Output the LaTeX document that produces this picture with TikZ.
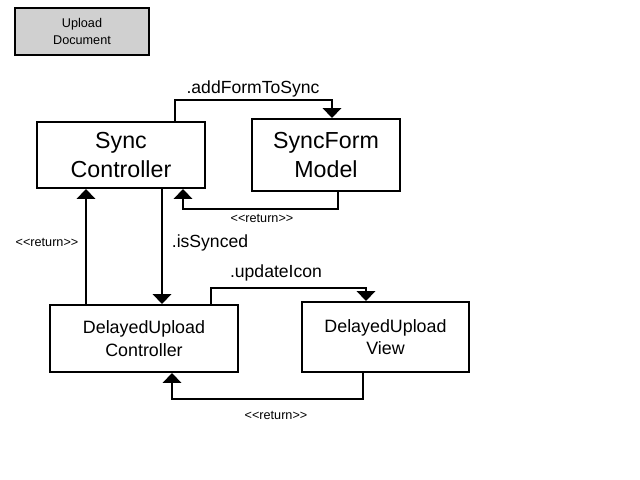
\documentclass[tikz,border=0pt]{standalone}
\usepackage{fontspec}
\setmainfont{Liberation Sans}
\usetikzlibrary{arrows.meta,positioning,calc}
\definecolor{boxGray}{RGB}{208, 208, 208}

\begin{document}
\begin{tikzpicture}[
        x=0.025cm, y=-0.025cm,
        box/.style={rectangle, draw, line width=1.4pt, inner sep=0pt, align=center},
        arrow/.style={-{Triangle[width=13pt, length=7pt]}, line width=1.4pt},
        lbl/.style={font=\fontsize{12.5}{15}\selectfont},
        ret/.style={font=\fontsize{9}{11}\selectfont}
    ]
        \useasboundingbox (0,0) rectangle (640,480);

        % Legend
        \node[box, fill=boxGray, minimum width=3.35cm, minimum height=1.175cm, font=\fontsize{9}{11.5}\selectfont] (upload) at (82,31.5) {Upload\\Document};

        % Top row
        \node[box, minimum width=4.2cm, minimum height=1.65cm, font=\fontsize{16.5}{21}\selectfont] (sync) at (121,155) {Sync\\Controller};
        \node[box, minimum width=3.7cm, minimum height=1.8cm, font=\fontsize{16.5}{21}\selectfont] (syncform) at (326,155) {SyncForm\\Model};

        % Bottom row
        \node[box, minimum width=4.7cm, minimum height=1.675cm, font=\fontsize{12.7}{16}\selectfont] (duc) at (144,338.5) {DelayedUpload\\Controller};
        \node[box, minimum width=4.175cm, minimum height=1.75cm, font=\fontsize{12.7}{16}\selectfont] (duv) at (385.5,337) {DelayedUpload\\View};

        % Arrows
        \draw[arrow] ([xshift=1.35cm]sync.north) -- ++(0,-21) -| ([xshift=0.15cm]syncform.north);
        \draw[arrow] ([xshift=0.3cm]syncform.south) -- ++(0,17) -| ([xshift=1.55cm]sync.south);
        \coordinate (s1) at ([xshift=1.025cm]sync.south);
        \draw[arrow] (s1) -- (s1 |- duc.north);
        \coordinate (r1) at ([xshift=-1.45cm]duc.north);
        \draw[arrow] (r1) -- (r1 |- sync.south);
        \draw[arrow] ([xshift=1.675cm]duc.north) -- ++(0,-16) -| ([xshift=-0.4875cm]duv.north);
        \draw[arrow] ([xshift=-0.5625cm]duv.south) -- ++(0,26) -| ([xshift=0.7cm]duc.south);

        % Labels
        \node[lbl] (addlbl) at (253,89) {.addFormToSync};
        \node[ret] (ret1) at (262,218) {<{}<return>{}>};
        \node[lbl] (synclbl) at (210,243) {.isSynced};
        \node[ret] (ret2) at (47,242) {<{}<return>{}>};
        \node[lbl] (updlbl) at (276,273) {.updateIcon};
        \node[ret] (ret3) at (276,415) {<{}<return>{}>};

    \end{tikzpicture}
\end{document}
